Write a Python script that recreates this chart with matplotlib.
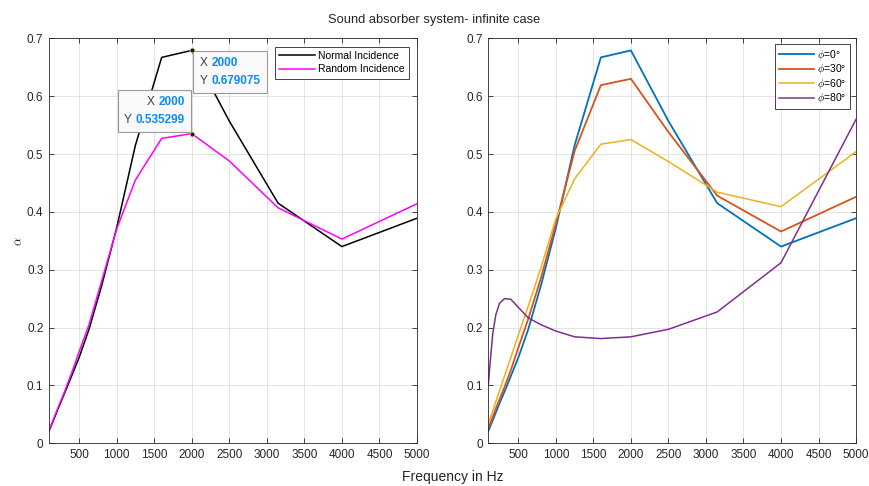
import matplotlib
matplotlib.use("Agg")
import matplotlib.pyplot as plt
from matplotlib.offsetbox import TextArea, HPacker, VPacker, AnnotationBbox

plt.rcParams['font.family'] = ['Liberation Sans', 'DejaVu Sans']
plt.rcParams['mathtext.fontset'] = 'cm'

# third-octave band centre frequencies
freq = [100, 125, 160, 200, 250, 315, 400, 500, 630, 800,
        1000, 1250, 1600, 2000, 2500, 3150, 4000, 5000]

alpha_normal = [0.021, 0.029, 0.040, 0.053, 0.069, 0.089, 0.116, 0.148, 0.196, 0.272,
                0.372, 0.515, 0.667, 0.679075, 0.557, 0.415, 0.340, 0.389]
alpha_random = [0.022, 0.030, 0.042, 0.055, 0.071, 0.092, 0.121, 0.158, 0.204, 0.280,
                0.370, 0.455, 0.527, 0.535299, 0.488, 0.407, 0.353, 0.414]

alpha_phi0 = alpha_normal
alpha_phi30 = [0.026, 0.034, 0.046, 0.060, 0.076, 0.097, 0.126, 0.165, 0.214, 0.285,
               0.380, 0.505, 0.619, 0.630, 0.538, 0.428, 0.366, 0.426]
alpha_phi60 = [0.033, 0.043, 0.056, 0.072, 0.091, 0.116, 0.148, 0.187, 0.236, 0.303,
               0.388, 0.457, 0.517, 0.525, 0.487, 0.434, 0.409, 0.504]
alpha_phi80 = [0.101, 0.140, 0.190, 0.222, 0.242, 0.250, 0.249, 0.235, 0.217, 0.205,
               0.194, 0.184, 0.181, 0.184, 0.197, 0.227, 0.312, 0.560]

angles = [0, 30, 60, 80]
angle_colors = ['#0072BD', '#D95319', '#EDB120', '#7E2F8E']

xticks = list(range(500, 5001, 500))
yticks = [0, 0.1, 0.2, 0.3, 0.4, 0.5, 0.6, 0.7]
ytick_labels = ['0', '0.1', '0.2', '0.3', '0.4', '0.5', '0.6', '0.7']

axis_gray = '#262626'
tip_blue = '#0A8CFA'
TIP_PAD = 0.45  # fraction of the 10 pt default font size


def style_axes(ax):
    ax.set_xlim(100, 5000)
    ax.set_ylim(0, 0.7)
    ax.set_xticks(xticks)
    ax.set_yticks(yticks)
    ax.set_yticklabels(ytick_labels)
    ax.grid(True, color='#dedede', linewidth=0.6)
    ax.set_axisbelow(True)
    ax.tick_params(direction='in', length=3.5, width=0.6, top=True, right=True,
                   labelsize=8.5, colors=axis_gray, pad=4)
    for s in ax.spines.values():
        s.set_color(axis_gray)
        s.set_linewidth(0.6)


def style_legend(leg):
    leg.get_frame().set_edgecolor(axis_gray)
    leg.get_frame().set_linewidth(0.6)


def data_tip(ax, x, y, align, box_align, offset):
    def row(label, value):
        return HPacker(children=[
            TextArea(label, textprops=dict(color='#404040', fontsize=8.5)),
            TextArea(value, textprops=dict(color=tip_blue, fontsize=8.5, fontweight='bold')),
        ], align='baseline', pad=0, sep=3)
    box = VPacker(children=[row('X', f'{x:g}'), row('Y', f'{y:.6f}')],
                  align=align, pad=0, sep=4)
    ab = AnnotationBbox(box, (x, y), xybox=offset, xycoords='data',
                        boxcoords='offset points', box_alignment=box_align,
                        pad=TIP_PAD, frameon=True, zorder=5)
    ab.patch.set_facecolor('#f9f9fc')
    ab.patch.set_edgecolor('#9a9a9a')
    ab.patch.set_linewidth(0.8)
    ax.add_artist(ab)
    ax.plot([x], [y], 'o', ms=3.5, mfc='#1a1a1a', mec='#d8d080', mew=0.6, zorder=6)


fig = plt.figure(figsize=(8.69, 4.86), dpi=100)
ax1 = fig.add_axes([0.0564, 0.0879, 0.4235, 0.8333])
ax2 = fig.add_axes([0.5619, 0.0879, 0.4232, 0.8333])

# left: normal vs random incidence
ax1.plot(freq, alpha_normal, color='black', lw=1.1, label='Normal Incidence')
ax1.plot(freq, alpha_random, color='#FF00FF', lw=1.1, label='Random Incidence')
style_axes(ax1)
ax1.set_ylabel(r'$\alpha$', fontsize=9, color=axis_gray, labelpad=1.5)
leg1 = ax1.legend(loc='upper right', fontsize=7.5, handlelength=3.4, handletextpad=0.3,
                  borderpad=0.4, labelspacing=0.35, fancybox=False,
                  borderaxespad=0.8, framealpha=1)
style_legend(leg1)

p = TIP_PAD * 10
data_tip(ax1, freq[13], alpha_normal[13], 'left', (0, 1), (p + 1, -p - 0.5))
data_tip(ax1, freq[13], alpha_random[13], 'right', (1, 0), (-p - 0.3, p + 1))

# right: oblique incidence for several angles
for ang, vals, col in zip(angles, [alpha_phi0, alpha_phi30, alpha_phi60, alpha_phi80], angle_colors):
    ax2.plot(freq, vals, color=col, lw=1.3 if ang < 60 else 1.1,
             label=r'$\phi$=' + f'{ang}°')
style_axes(ax2)
leg2 = ax2.legend(loc='upper right', fontsize=7.5, handlelength=3.4, handletextpad=0.3,
                  borderpad=0.35, labelspacing=0.05, fancybox=False,
                  borderaxespad=0.55, framealpha=1)
style_legend(leg2)

fig.suptitle('Sound absorber system- infinite case', x=0.5, y=0.972, fontsize=9.3,
             color=axis_gray)
fig.supxlabel('Frequency in Hz', x=0.521, y=0.005, fontsize=10, color=axis_gray)

fig.savefig('out.png', dpi=100)
